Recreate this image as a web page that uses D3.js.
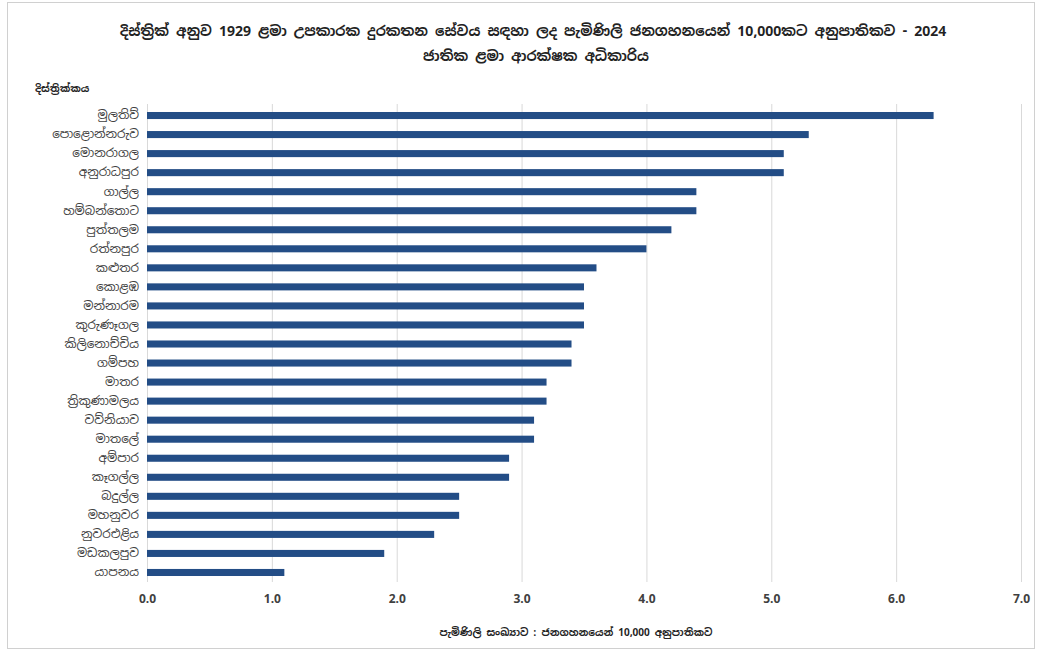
<!DOCTYPE html>
<html>
<head>
<meta charset="utf-8">
<script src="https://cdn.jsdelivr.net/npm/d3@7"></script>
<style>
  html, body { margin: 0; padding: 0; background: #fff; }
  svg { display: block; }
  .sin { font-family: "Noto Sans Sinhala", "Noto Serif Sinhala", "Iskoola Pota", "Liberation Serif", serif; }
</style>
</head>
<body>
<svg id="chart" width="1041" height="654"></svg>
<script>
const districts = ["මුලතිව්", "පොළොන්නරුව", "මොනරාගල", "අනුරාධපුර", "ගාල්ල", "හම්බන්තොට", "පුත්තලම", "රත්නපුර", "කළුතර", "කොළඹ", "මන්නාරම", "කුරුණෑගල", "කිලිනොච්චිය", "ගම්පහ", "මාතර", "ත්‍රිකුණාමලය", "වව්නියාව", "මාතලේ", "අම්පාර", "කෑගල්ල", "බදුල්ල", "මහනුවර", "නුවරඑළිය", "මඩකලපුව", "යාපනය"];
const rates = [6.3, 5.3, 5.1, 5.1, 4.4, 4.4, 4.2, 4.0, 3.6, 3.5, 3.5, 3.5, 3.4, 3.4, 3.2, 3.2, 3.1, 3.1, 2.9, 2.9, 2.5, 2.5, 2.3, 1.9, 1.1];
const xTicks = [0, 1, 2, 3, 4, 5, 6, 7];
const titleLine1 = "දිස්ත්‍රික් අනුව 1929 ළමා උපකාරක දුරකතන සේවය සඳහා ලද පැමිණිලි ජනගහනයෙන් 10,000කට අනුපාතිකව  - 2024";
const titleLine2 = "ජාතික ළමා ආරක්ෂක අධිකාරිය";
const yTitle = "දිස්ත්‍රික්කය";
const xTitle = "පැමිණිලි සංඛ්‍යාව : ජනගහනයෙන් 10,000 අනුපාතිකව";

const svg = d3.select("#chart");
const W = 1041, H = 654;
const m = { left: 147, right: 20, top: 106, bottom: 72 };

svg.append("rect").attr("x", 7.5).attr("y", 2.5).attr("width", 1027).attr("height", 646)
  .attr("fill", "#fff").attr("stroke", "#d0d0d0");

const x = d3.scaleLinear().domain([0, 7]).range([m.left, 1021]);
const y = d3.scaleBand().domain(districts).range([m.top, H - m.bottom]).paddingInner(0.63).paddingOuter(0.315);

// gridlines
svg.append("g").selectAll("line").data(xTicks).join("line")
  .attr("x1", d => x(d) + 0.5).attr("x2", d => x(d) + 0.5)
  .attr("y1", m.top - 2).attr("y2", H - m.bottom)
  .attr("stroke", "#d9d9d9").attr("stroke-width", 1);

// bars
svg.append("g").selectAll("rect").data(districts).join("rect")
  .attr("x", x(0))
  .attr("y", d => y(d))
  .attr("width", (d, i) => x(rates[i]) - x(0))
  .attr("height", y.bandwidth())
  .attr("fill", "#234d86");

// x axis
const xAxis = d3.axisBottom(x).tickValues(xTicks).tickFormat(d3.format(".1f")).tickSize(0).tickPadding(12);
const gx = svg.append("g").attr("transform", `translate(0,${H - m.bottom})`).call(xAxis);
gx.select(".domain").remove();
gx.selectAll("text").attr("font-family", "Open Sans, sans-serif").attr("font-size", 12)
  .attr("font-weight", "bold").attr("fill", "#404040");

// y axis
const yAxis = d3.axisLeft(y).tickSize(0).tickPadding(8);
const gy = svg.append("g").attr("transform", `translate(${m.left},0)`).call(yAxis);
gy.select(".domain").remove();
gy.selectAll("text").attr("class", "sin").attr("font-size", 12).attr("fill", "#404040");

// titles
svg.append("text").attr("class", "sin").attr("x", 533).attr("y", 36).attr("text-anchor", "middle")
  .attr("font-size", 14).attr("font-weight", "bold").attr("fill", "#222").text(titleLine1);
svg.append("text").attr("class", "sin").attr("x", 536).attr("y", 61).attr("text-anchor", "middle")
  .attr("font-size", 14).attr("font-weight", "bold").attr("fill", "#222").text(titleLine2);
svg.append("text").attr("class", "sin").attr("x", 35).attr("y", 92)
  .attr("font-size", 10).attr("font-weight", "bold").attr("fill", "#222").text(yTitle);
svg.append("text").attr("class", "sin").attr("x", 576).attr("y", 636).attr("text-anchor", "middle")
  .attr("font-size", 10).attr("font-weight", "bold").attr("fill", "#222").text(xTitle);
</script>
</body>
</html>
